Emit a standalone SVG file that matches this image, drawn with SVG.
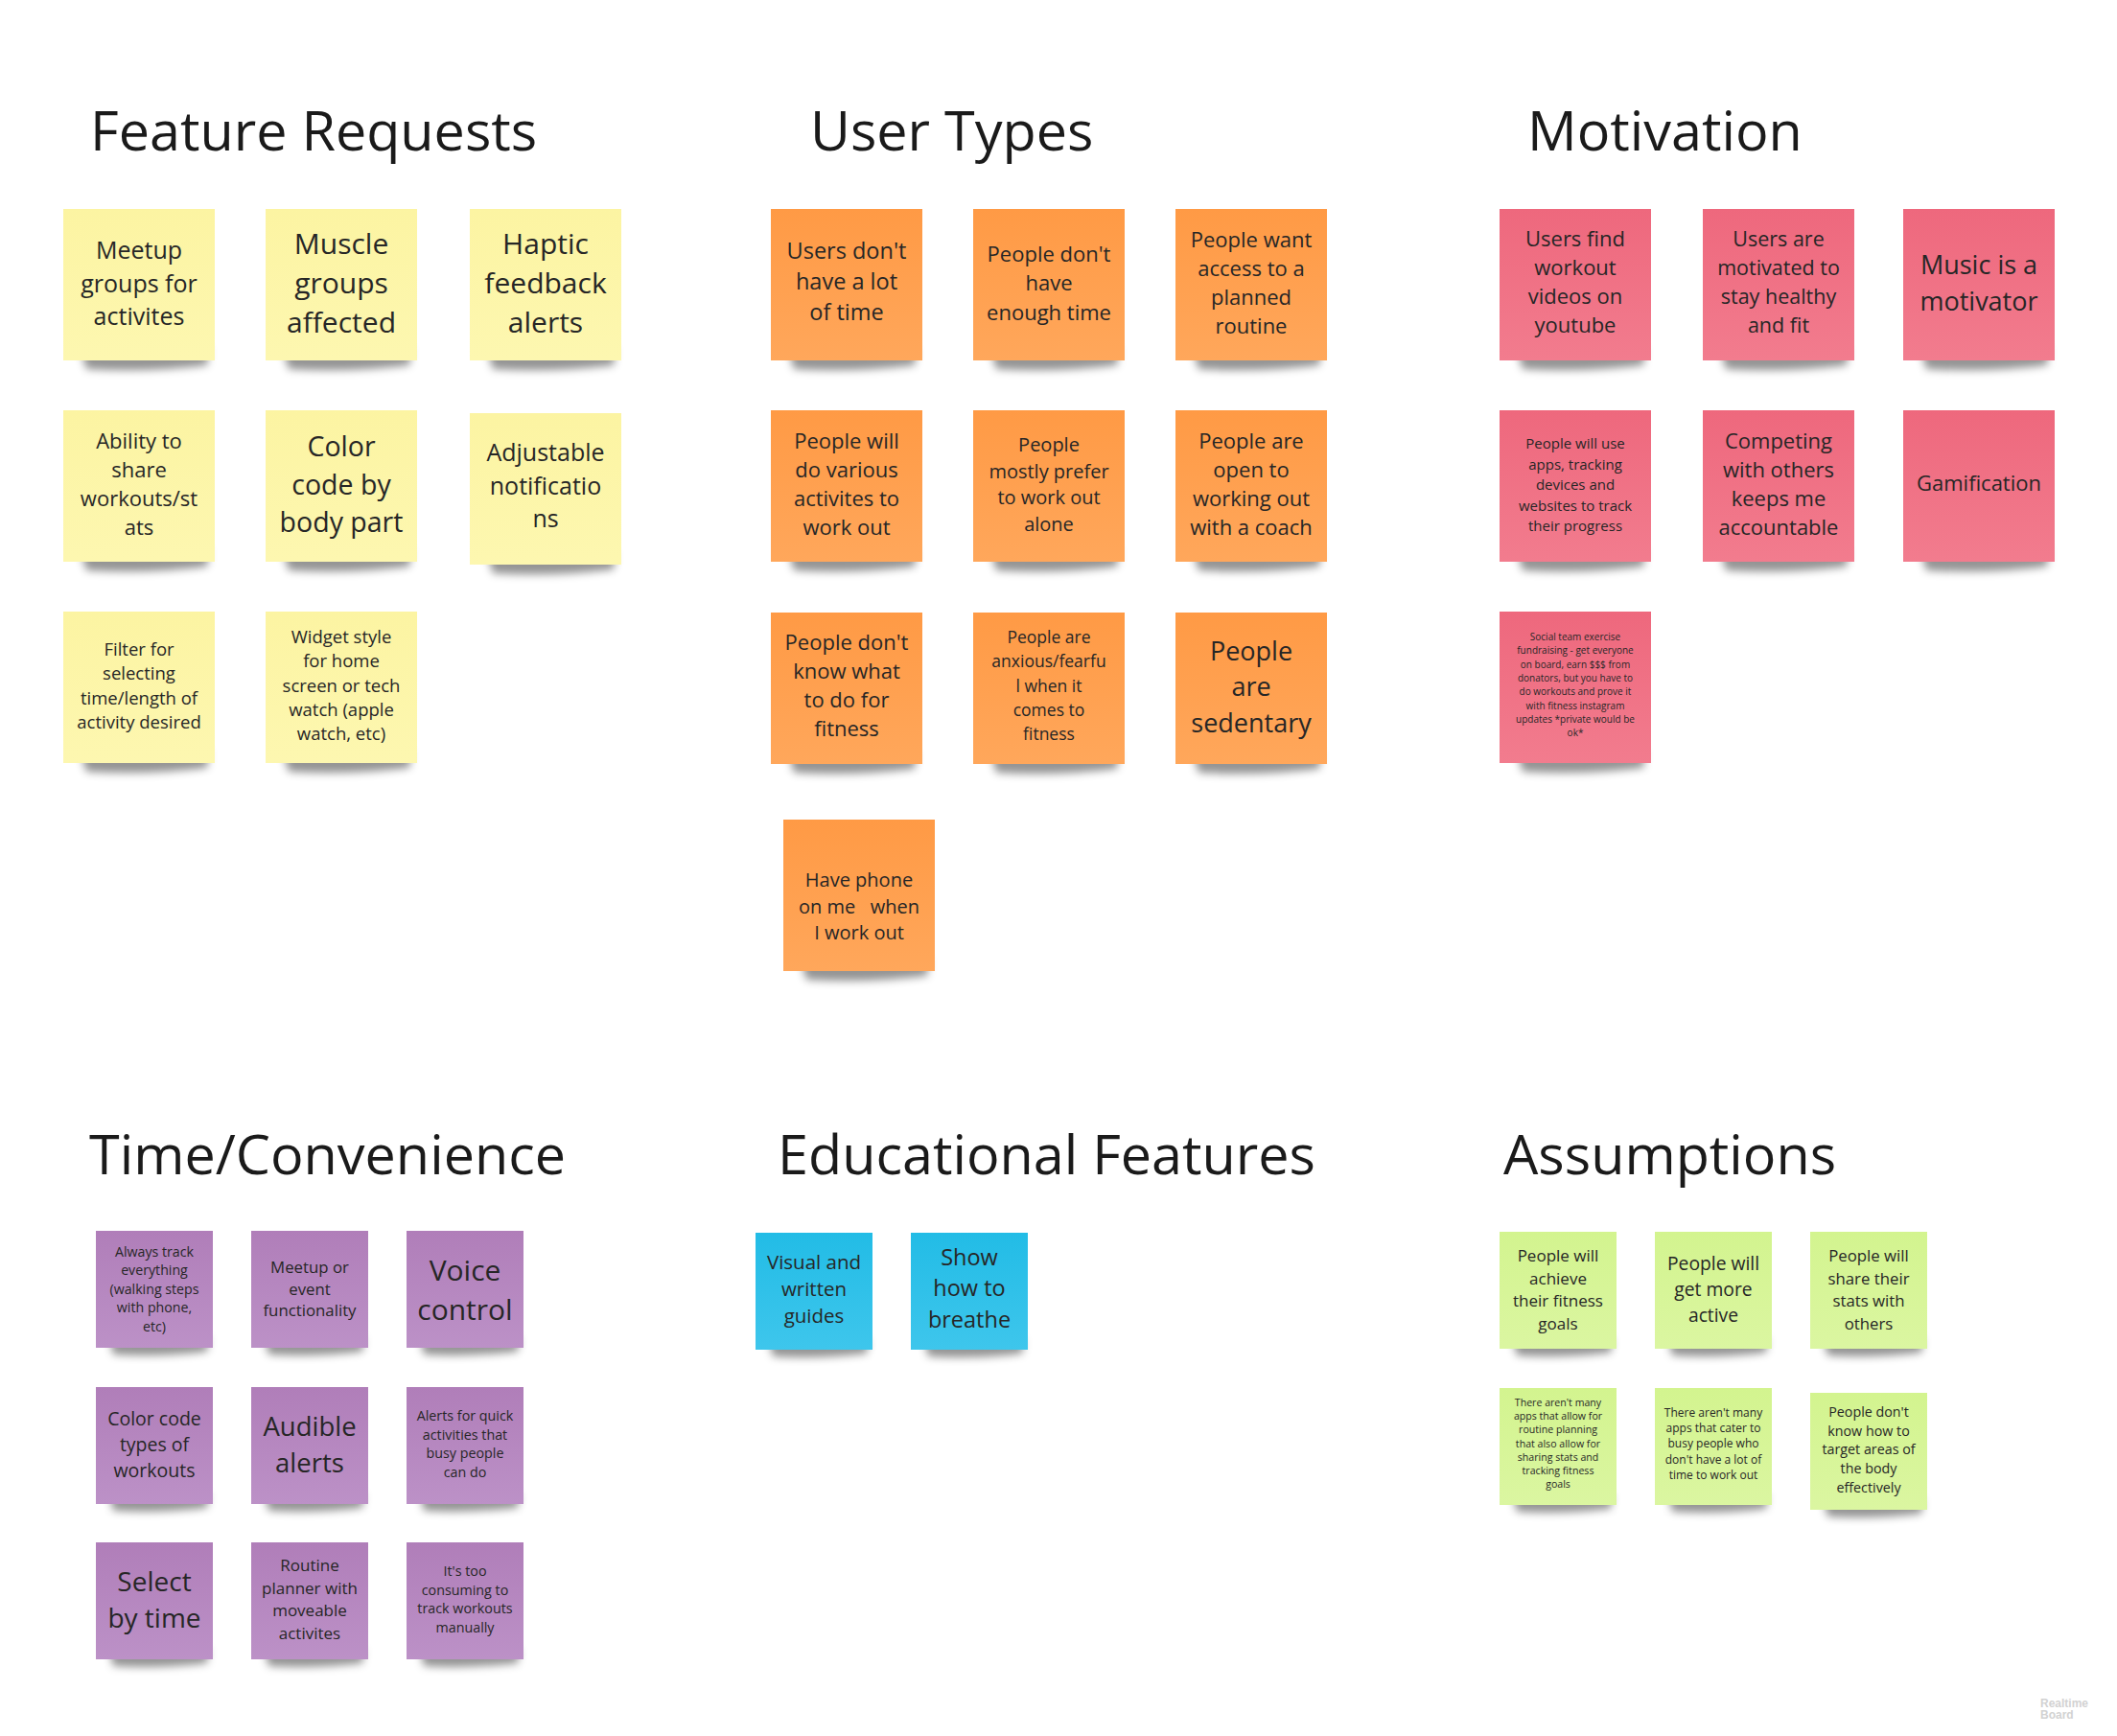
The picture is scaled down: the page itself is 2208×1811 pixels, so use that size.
<svg xmlns="http://www.w3.org/2000/svg" width="2208" height="1811" viewBox="0 0 2208 1811">
  <style>
    .title { font-family: "Open Sans", "Noto Sans", sans-serif; font-size: 57.5px; fill: #1a1a1a; }
    .t { font-family: "Open Sans", "Noto Sans", sans-serif; fill: #262626; text-anchor: middle; }
    .yel { fill: url(#gYellow); }
    .org { fill: url(#gOrange); }
    .pnk { fill: url(#gPink); }
    .vio { fill: url(#gViolet); }
    .blu { fill: url(#gBlue); }
    .grn { fill: url(#gGreen); }
    .mark { font-family: "Liberation Sans", Arial, sans-serif; font-weight: bold; font-size: 12px; fill: #d2d2d2; }
  </style>
  <defs>
    <linearGradient id="gYellow" x1="0" y1="0" x2="0" y2="1">
      <stop offset="0" stop-color="#fcf4a2"/><stop offset="1" stop-color="#fdf7b0"/>
    </linearGradient>
    <linearGradient id="gOrange" x1="0" y1="0" x2="0" y2="1">
      <stop offset="0" stop-color="#ff9a45"/><stop offset="1" stop-color="#ffa75b"/>
    </linearGradient>
    <linearGradient id="gPink" x1="0" y1="0" x2="0" y2="1">
      <stop offset="0" stop-color="#ee687d"/><stop offset="1" stop-color="#f27c8e"/>
    </linearGradient>
    <linearGradient id="gViolet" x1="0" y1="0" x2="0" y2="1">
      <stop offset="0" stop-color="#b07eb9"/><stop offset="1" stop-color="#bc91c7"/>
    </linearGradient>
    <linearGradient id="gBlue" x1="0" y1="0" x2="0" y2="1">
      <stop offset="0" stop-color="#22bce6"/><stop offset="1" stop-color="#3ec6ec"/>
    </linearGradient>
    <linearGradient id="gGreen" x1="0" y1="0" x2="0" y2="1">
      <stop offset="0" stop-color="#d3f48f"/><stop offset="1" stop-color="#dbf6a1"/>
    </linearGradient>
    <filter id="soft" x="-20%" y="-50%" width="140%" height="200%">
      <feGaussianBlur stdDeviation="4"/>
    </filter>
    <!-- curled-paper shadows under the bottom edge of a note -->
    <path id="shL" d="M18,146 L152,146 L150,163 Q86,171 24,167 Z" fill="#000" fill-opacity="0.42" filter="url(#soft)"/>
    <path id="shS" d="M14,112 L118,112 L116,126 Q66,132 18,129 Z" fill="#000" fill-opacity="0.42" filter="url(#soft)"/>
  </defs>

  <rect width="2208" height="1811" fill="#ffffff"/>

  <!-- section headings -->
  <g id="headings">
    <text class="title" x="94" y="157">Feature Requests</text>
    <text class="title" x="845" y="157">User Types</text>
    <text class="title" x="1593" y="157">Motivation</text>
    <text class="title" x="93" y="1225">Time/Convenience</text>
    <text class="title" x="811" y="1225">Educational Features</text>
    <text class="title" x="1568" y="1225">Assumptions</text>
  </g>

  <!-- connectors: none on this board -->
  <g id="connectors"/>

  <!-- Feature Requests -->
  <g id="fr-meetup">
    <use href="#shL" x="66" y="218"/>
    <rect class="yel" x="66" y="218" width="158" height="158"/>
    <text class="t" y="270" font-size="25"><tspan x="145">Meetup</tspan><tspan x="145" dy="34.5">groups for</tspan><tspan x="145" dy="34.5">activites</tspan></text>
  </g>
  <g id="fr-muscle">
    <use href="#shL" x="277" y="218"/>
    <rect class="yel" x="277" y="218" width="158" height="158"/>
    <text class="t" y="265" font-size="30"><tspan x="356">Muscle</tspan><tspan x="356" dy="41">groups</tspan><tspan x="356" dy="41">affected</tspan></text>
  </g>
  <g id="fr-haptic">
    <use href="#shL" x="490" y="218"/>
    <rect class="yel" x="490" y="218" width="158" height="158"/>
    <text class="t" y="265" font-size="30"><tspan x="569">Haptic</tspan><tspan x="569" dy="41">feedback</tspan><tspan x="569" dy="41">alerts</tspan></text>
  </g>
  <g id="fr-share">
    <use href="#shL" x="66" y="428"/>
    <rect class="yel" x="66" y="428" width="158" height="158"/>
    <text class="t" y="468" font-size="22"><tspan x="145">Ability to</tspan><tspan x="145" dy="30">share</tspan><tspan x="145" dy="30">workouts/st</tspan><tspan x="145" dy="30">ats</tspan></text>
  </g>
  <g id="fr-colorcode">
    <use href="#shL" x="277" y="428"/>
    <rect class="yel" x="277" y="428" width="158" height="158"/>
    <text class="t" y="476" font-size="28.5"><tspan x="356">Color</tspan><tspan x="356" dy="39.5">code by</tspan><tspan x="356" dy="39.5">body part</tspan></text>
  </g>
  <g id="fr-notifications">
    <use href="#shL" x="490" y="431"/>
    <rect class="yel" x="490" y="431" width="158" height="158"/>
    <text class="t" y="481" font-size="25"><tspan x="569">Adjustable</tspan><tspan x="569" dy="34.5">notificatio</tspan><tspan x="569" dy="34.5">ns</tspan></text>
  </g>
  <g id="fr-filter">
    <use href="#shL" x="66" y="638"/>
    <rect class="yel" x="66" y="638" width="158" height="158"/>
    <text class="t" y="684" font-size="18.5"><tspan x="145">Filter for</tspan><tspan x="145" dy="25.3">selecting</tspan><tspan x="145" dy="25.3">time/length of</tspan><tspan x="145" dy="25.3">activity desired</tspan></text>
  </g>
  <g id="fr-widget">
    <use href="#shL" x="277" y="638"/>
    <rect class="yel" x="277" y="638" width="158" height="158"/>
    <text class="t" y="671" font-size="18.5"><tspan x="356">Widget style</tspan><tspan x="356" dy="25.3">for home</tspan><tspan x="356" dy="25.3">screen or tech</tspan><tspan x="356" dy="25.3">watch (apple</tspan><tspan x="356" dy="25.3">watch, etc)</tspan></text>
  </g>

  <!-- User Types -->
  <g id="ut-lot-of-time">
    <use href="#shL" x="804" y="218"/>
    <rect class="org" x="804" y="218" width="158" height="158"/>
    <text class="t" y="270" font-size="23.5"><tspan x="883">Users don't</tspan><tspan x="883" dy="32">have a lot</tspan><tspan x="883" dy="32">of time</tspan></text>
  </g>
  <g id="ut-enough-time">
    <use href="#shL" x="1015" y="218"/>
    <rect class="org" x="1015" y="218" width="158" height="158"/>
    <text class="t" y="273" font-size="22"><tspan x="1094">People don't</tspan><tspan x="1094" dy="30.3">have</tspan><tspan x="1094" dy="30.3">enough time</tspan></text>
  </g>
  <g id="ut-routine">
    <use href="#shL" x="1226" y="218"/>
    <rect class="org" x="1226" y="218" width="158" height="158"/>
    <text class="t" y="258" font-size="22"><tspan x="1305">People want</tspan><tspan x="1305" dy="30">access to a</tspan><tspan x="1305" dy="30">planned</tspan><tspan x="1305" dy="30">routine</tspan></text>
  </g>
  <g id="ut-various">
    <use href="#shL" x="804" y="428"/>
    <rect class="org" x="804" y="428" width="158" height="158"/>
    <text class="t" y="468" font-size="22"><tspan x="883">People will</tspan><tspan x="883" dy="30">do various</tspan><tspan x="883" dy="30">activites to</tspan><tspan x="883" dy="30">work out</tspan></text>
  </g>
  <g id="ut-alone">
    <use href="#shL" x="1015" y="428"/>
    <rect class="org" x="1015" y="428" width="158" height="158"/>
    <text class="t" y="471" font-size="20"><tspan x="1094">People</tspan><tspan x="1094" dy="27.7">mostly prefer</tspan><tspan x="1094" dy="27.7">to work out</tspan><tspan x="1094" dy="27.7">alone</tspan></text>
  </g>
  <g id="ut-coach">
    <use href="#shL" x="1226" y="428"/>
    <rect class="org" x="1226" y="428" width="158" height="158"/>
    <text class="t" y="468" font-size="22"><tspan x="1305">People are</tspan><tspan x="1305" dy="30">open to</tspan><tspan x="1305" dy="30">working out</tspan><tspan x="1305" dy="30">with a coach</tspan></text>
  </g>
  <g id="ut-what-to-do">
    <use href="#shL" x="804" y="639"/>
    <rect class="org" x="804" y="639" width="158" height="158"/>
    <text class="t" y="678" font-size="22"><tspan x="883">People don't</tspan><tspan x="883" dy="30">know what</tspan><tspan x="883" dy="30">to do for</tspan><tspan x="883" dy="30">fitness</tspan></text>
  </g>
  <g id="ut-anxious">
    <use href="#shL" x="1015" y="639"/>
    <rect class="org" x="1015" y="639" width="158" height="158"/>
    <text class="t" y="671" font-size="17.5"><tspan x="1094">People are</tspan><tspan x="1094" dy="25.3">anxious/fearfu</tspan><tspan x="1094" dy="25.3">l when it</tspan><tspan x="1094" dy="25.3">comes to</tspan><tspan x="1094" dy="25.3">fitness</tspan></text>
  </g>
  <g id="ut-sedentary">
    <use href="#shL" x="1226" y="639"/>
    <rect class="org" x="1226" y="639" width="158" height="158"/>
    <text class="t" y="689" font-size="27"><tspan x="1305">People</tspan><tspan x="1305" dy="37.3">are</tspan><tspan x="1305" dy="37.3">sedentary</tspan></text>
  </g>
  <g id="ut-phone">
    <use href="#shL" x="817" y="855"/>
    <rect class="org" x="817" y="855" width="158" height="158"/>
    <text class="t" y="925" font-size="20"><tspan x="896">Have phone</tspan><tspan x="896" dy="27.7" style="white-space:pre">on me   when</tspan><tspan x="896" dy="27.7">I work out</tspan></text>
  </g>

  <!-- Motivation -->
  <g id="mo-youtube">
    <use href="#shL" x="1564" y="218"/>
    <rect class="pnk" x="1564" y="218" width="158" height="158"/>
    <text class="t" y="257" font-size="22"><tspan x="1643">Users find</tspan><tspan x="1643" dy="30">workout</tspan><tspan x="1643" dy="30">videos on</tspan><tspan x="1643" dy="30">youtube</tspan></text>
  </g>
  <g id="mo-healthy">
    <use href="#shL" x="1776" y="218"/>
    <rect class="pnk" x="1776" y="218" width="158" height="158"/>
    <text class="t" y="257" font-size="21.5"><tspan x="1855">Users are</tspan><tspan x="1855" dy="30">motivated to</tspan><tspan x="1855" dy="30">stay healthy</tspan><tspan x="1855" dy="30">and fit</tspan></text>
  </g>
  <g id="mo-music">
    <use href="#shL" x="1985" y="218"/>
    <rect class="pnk" x="1985" y="218" width="158" height="158"/>
    <text class="t" y="286" font-size="27"><tspan x="2064">Music is a</tspan><tspan x="2064" dy="38">motivator</tspan></text>
  </g>
  <g id="mo-tracking">
    <use href="#shL" x="1564" y="428"/>
    <rect class="pnk" x="1564" y="428" width="158" height="158"/>
    <text class="t" y="468" font-size="15"><tspan x="1643">People will use</tspan><tspan x="1643" dy="21.5">apps, tracking</tspan><tspan x="1643" dy="21.5">devices and</tspan><tspan x="1643" dy="21.5">websites to track</tspan><tspan x="1643" dy="21.5">their progress</tspan></text>
  </g>
  <g id="mo-competing">
    <use href="#shL" x="1776" y="428"/>
    <rect class="pnk" x="1776" y="428" width="158" height="158"/>
    <text class="t" y="468" font-size="22"><tspan x="1855">Competing</tspan><tspan x="1855" dy="30">with others</tspan><tspan x="1855" dy="30">keeps me</tspan><tspan x="1855" dy="30">accountable</tspan></text>
  </g>
  <g id="mo-gamification">
    <use href="#shL" x="1985" y="428"/>
    <rect class="pnk" x="1985" y="428" width="158" height="158"/>
    <text class="t" x="2064" y="512" font-size="22">Gamification</text>
  </g>
  <g id="mo-fundraising">
    <use href="#shL" x="1564" y="638"/>
    <rect class="pnk" x="1564" y="638" width="158" height="158"/>
    <text class="t" y="668" font-size="10"><tspan x="1643">Social team exercise</tspan><tspan x="1643" dy="14.3">fundraising - get everyone</tspan><tspan x="1643" dy="14.3">on board, earn $$$ from</tspan><tspan x="1643" dy="14.3">donators, but you have to</tspan><tspan x="1643" dy="14.3">do workouts and prove it</tspan><tspan x="1643" dy="14.3">with fitness instagram</tspan><tspan x="1643" dy="14.3">updates *private would be</tspan><tspan x="1643" dy="14.3">ok*</tspan></text>
  </g>

  <!-- Time/Convenience -->
  <g id="tc-track">
    <use href="#shS" x="100" y="1284"/>
    <rect class="vio" x="100" y="1284" width="122" height="122"/>
    <text class="t" y="1311" font-size="14.2"><tspan x="161">Always track</tspan><tspan x="161" dy="19.4">everything</tspan><tspan x="161" dy="19.4">(walking steps</tspan><tspan x="161" dy="19.4">with phone,</tspan><tspan x="161" dy="19.4">etc)</tspan></text>
  </g>
  <g id="tc-meetup">
    <use href="#shS" x="262" y="1284"/>
    <rect class="vio" x="262" y="1284" width="122" height="122"/>
    <text class="t" y="1328" font-size="16.8"><tspan x="323">Meetup or</tspan><tspan x="323" dy="22.5">event</tspan><tspan x="323" dy="22.5">functionality</tspan></text>
  </g>
  <g id="tc-voice">
    <use href="#shS" x="424" y="1284"/>
    <rect class="vio" x="424" y="1284" width="122" height="122"/>
    <text class="t" y="1336" font-size="30"><tspan x="485">Voice</tspan><tspan x="485" dy="41">control</tspan></text>
  </g>
  <g id="tc-colorcode">
    <use href="#shS" x="100" y="1447"/>
    <rect class="vio" x="100" y="1447" width="122" height="122"/>
    <text class="t" y="1487" font-size="19.5"><tspan x="161">Color code</tspan><tspan x="161" dy="26.8">types of</tspan><tspan x="161" dy="26.8">workouts</tspan></text>
  </g>
  <g id="tc-audible">
    <use href="#shS" x="262" y="1447"/>
    <rect class="vio" x="262" y="1447" width="122" height="122"/>
    <text class="t" y="1498" font-size="27.5"><tspan x="323">Audible</tspan><tspan x="323" dy="38">alerts</tspan></text>
  </g>
  <g id="tc-quick">
    <use href="#shS" x="424" y="1447"/>
    <rect class="vio" x="424" y="1447" width="122" height="122"/>
    <text class="t" y="1482" font-size="14.3"><tspan x="485">Alerts for quick</tspan><tspan x="485" dy="19.7">activities that</tspan><tspan x="485" dy="19.7">busy people</tspan><tspan x="485" dy="19.7">can do</tspan></text>
  </g>
  <g id="tc-select">
    <use href="#shS" x="100" y="1609"/>
    <rect class="vio" x="100" y="1609" width="122" height="122"/>
    <text class="t" y="1660" font-size="28"><tspan x="161">Select</tspan><tspan x="161" dy="38">by time</tspan></text>
  </g>
  <g id="tc-planner">
    <use href="#shS" x="262" y="1609"/>
    <rect class="vio" x="262" y="1609" width="122" height="122"/>
    <text class="t" y="1639" font-size="17"><tspan x="323">Routine</tspan><tspan x="323" dy="23.5">planner with</tspan><tspan x="323" dy="23.5">moveable</tspan><tspan x="323" dy="23.5">activites</tspan></text>
  </g>
  <g id="tc-manual">
    <use href="#shS" x="424" y="1609"/>
    <rect class="vio" x="424" y="1609" width="122" height="122"/>
    <text class="t" y="1644" font-size="14.3"><tspan x="485">It's too</tspan><tspan x="485" dy="19.7">consuming to</tspan><tspan x="485" dy="19.7">track workouts</tspan><tspan x="485" dy="19.7">manually</tspan></text>
  </g>

  <!-- Educational Features -->
  <g id="ed-guides">
    <use href="#shS" x="788" y="1286"/>
    <rect class="blu" x="788" y="1286" width="122" height="122"/>
    <text class="t" y="1324" font-size="20.5"><tspan x="849">Visual and</tspan><tspan x="849" dy="28.2">written</tspan><tspan x="849" dy="28.2">guides</tspan></text>
  </g>
  <g id="ed-breathe">
    <use href="#shS" x="950" y="1286"/>
    <rect class="blu" x="950" y="1286" width="122" height="122"/>
    <text class="t" y="1320" font-size="23.5"><tspan x="1011">Show</tspan><tspan x="1011" dy="32.4">how to</tspan><tspan x="1011" dy="32.4">breathe</tspan></text>
  </g>

  <!-- Assumptions -->
  <g id="as-goals">
    <use href="#shS" x="1564" y="1285"/>
    <rect class="grn" x="1564" y="1285" width="122" height="122"/>
    <text class="t" y="1316" font-size="17"><tspan x="1625">People will</tspan><tspan x="1625" dy="23.5">achieve</tspan><tspan x="1625" dy="23.5">their fitness</tspan><tspan x="1625" dy="23.5">goals</tspan></text>
  </g>
  <g id="as-active">
    <use href="#shS" x="1726" y="1285"/>
    <rect class="grn" x="1726" y="1285" width="122" height="122"/>
    <text class="t" y="1325" font-size="19.3"><tspan x="1787">People will</tspan><tspan x="1787" dy="26.8">get more</tspan><tspan x="1787" dy="26.8">active</tspan></text>
  </g>
  <g id="as-share">
    <use href="#shS" x="1888" y="1285"/>
    <rect class="grn" x="1888" y="1285" width="122" height="122"/>
    <text class="t" y="1316" font-size="16.8"><tspan x="1949">People will</tspan><tspan x="1949" dy="23.5">share their</tspan><tspan x="1949" dy="23.5">stats with</tspan><tspan x="1949" dy="23.5">others</tspan></text>
  </g>
  <g id="as-planning">
    <use href="#shS" x="1564" y="1448"/>
    <rect class="grn" x="1564" y="1448" width="122" height="122"/>
    <text class="t" y="1467" font-size="10.6"><tspan x="1625">There aren't many</tspan><tspan x="1625" dy="14.2">apps that allow for</tspan><tspan x="1625" dy="14.2">routine planning</tspan><tspan x="1625" dy="14.2">that also allow for</tspan><tspan x="1625" dy="14.2">sharing stats and</tspan><tspan x="1625" dy="14.2">tracking fitness</tspan><tspan x="1625" dy="14.2">goals</tspan></text>
  </g>
  <g id="as-busy">
    <use href="#shS" x="1726" y="1448"/>
    <rect class="grn" x="1726" y="1448" width="122" height="122"/>
    <text class="t" y="1478" font-size="12"><tspan x="1787">There aren't many</tspan><tspan x="1787" dy="16.2">apps that cater to</tspan><tspan x="1787" dy="16.2">busy people who</tspan><tspan x="1787" dy="16.2">don't have a lot of</tspan><tspan x="1787" dy="16.2">time to work out</tspan></text>
  </g>
  <g id="as-target">
    <use href="#shS" x="1888" y="1453"/>
    <rect class="grn" x="1888" y="1453" width="122" height="122"/>
    <text class="t" y="1478" font-size="14.3"><tspan x="1949">People don't</tspan><tspan x="1949" dy="19.7">know how to</tspan><tspan x="1949" dy="19.7">target areas of</tspan><tspan x="1949" dy="19.7">the body</tspan><tspan x="1949" dy="19.7">effectively</tspan></text>
  </g>

  <!-- board watermark -->
  <g id="watermark">
    <text class="mark" x="2128" y="1781">Realtime</text>
    <text class="mark" x="2128" y="1793">Board</text>
  </g>
</svg>
